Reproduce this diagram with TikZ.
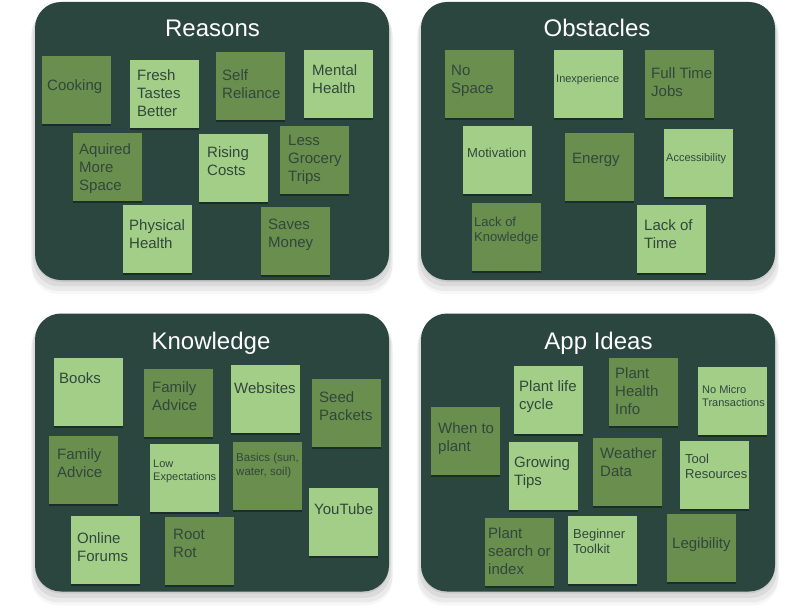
\documentclass[tikz,border=0pt]{standalone}
\usepackage{fontspec}
\setmainfont{Liberation Sans}
\usepackage{xcolor}
\definecolor{BoardGreen}{HTML}{2B463E}
\definecolor{NoteDark}{HTML}{6A8E4E}
\definecolor{NoteLight}{HTML}{A3CE87}
\definecolor{NoteInk}{HTML}{31473C}
\usepackage{tikz}
\usetikzlibrary{shadows}
% sticky text: left pad, top pad, lines
\newcommand{\memo}[3]{\parbox[t][68pt][t]{69pt}{\raggedright\leftskip=#1pt\vspace*{#2pt}#3}}

\begin{document}
\begin{tikzpicture}[x=1pt,y=-1pt,
  board/.style={fill=BoardGreen,rounded corners=26pt,minimum width=354pt,minimum height=278pt,inner sep=0pt,
    drop shadow={shadow xshift=0pt,shadow yshift=-2pt,opacity=0.08,fill=black},
    drop shadow={shadow xshift=0pt,shadow yshift=-5pt,shadow scale=1.01,opacity=0.06,fill=black},
    drop shadow={shadow xshift=0pt,shadow yshift=-8pt,shadow scale=1.02,opacity=0.05,fill=black},
    drop shadow={shadow xshift=0pt,shadow yshift=-11pt,shadow scale=1.02,opacity=0.03,fill=black}},
  heading/.style={text=white,font=\fontsize{24}{28}\selectfont,anchor=base},
  note/.style={anchor=north west,inner sep=0pt,minimum width=69pt,minimum height=68pt,text=NoteInk,
    drop shadow={shadow xshift=0pt,shadow yshift=-2pt,opacity=0.35,fill=black}},
  dark/.style={note,fill=NoteDark},
  light/.style={note,fill=NoteLight},
  f15/.style={font=\fontsize{15}{18}\selectfont},
  f13/.style={font=\fontsize{13}{15}\selectfont},
  f12/.style={font=\fontsize{11.5}{14}\selectfont},
  f11/.style={font=\fontsize{11}{13}\selectfont}
]
  \useasboundingbox[fill=white] (0,0) rectangle (808,610);

  % boards
  \node[board] (reasons) at (212,141) {};
  \node[board] (obstacles) at (598,141) {};
  \node[board] (knowledge) at (212,452.5) {};
  \node[board] (ideas) at (598,452.5) {};

  \node[heading] (reasonsT) at (212.5,37) {Reasons};
  \node[heading] (obstaclesT) at (597,37) {Obstacles};
  \node[heading] (knowledgeT) at (211,349) {Knowledge};
  \node[heading] (ideasT) at (598.5,349) {App Ideas};

  % Reasons
  \node[dark,f15] (cooking) at (42,56) {\memo{5}{23}{Cooking}};
  \node[light,f15] (fresh) at (130,60) {\memo{7}{9}{Fresh\\Tastes\\Better}};
  \node[dark,f15] (reliance) at (216,52) {\memo{6}{17}{Self\\Reliance}};
  \node[light,f15] (mental) at (304,50) {\memo{8}{14}{Mental\\Health}};
  \node[dark,f15] (space) at (73,133) {\memo{6}{10}{Aquired\\More\\Space}};
  \node[light,f15] (costs) at (199,134) {\memo{8}{12}{Rising\\Costs}};
  \node[dark,f15] (grocery) at (280,126) {\memo{8}{9}{Less\\Grocery\\Trips}};
  \node[light,f15] (physical) at (123,205) {\memo{6}{14}{Physical\\Health}};
  \node[dark,f15] (money) at (261,207) {\memo{7}{12}{Saves\\Money}};

  % Obstacles
  \node[dark,f15] (nospace) at (445,50) {\memo{6}{15}{No\\Space}};
  \node[light,f11] (inexp) at (554,50) {\memo{2}{24}{Inexperience}};
  \node[dark,f15] (jobs) at (645,50) {\memo{6}{17}{Full Time\\Jobs}};
  \node[light,f13] (motivation) at (463,126) {\memo{4}{22}{Motivation}};
  \node[dark,f15] (energy) at (565,133) {\memo{7}{20}{Energy}};
  \node[light,f11] (access) at (664,129) {\memo{2}{24}{Accessibility}};
  \node[dark,f13] (lackknow) at (472,203) {\memo{2}{14}{Lack of\\Knowledge}};
  \node[light,f15] (lacktime) at (637,205) {\memo{7}{14}{Lack of\\Time}};

  % Knowledge
  \node[light,f15] (books) at (54,358) {\memo{5}{14}{Books}};
  \node[dark,f15] (familyA) at (144,369) {\memo{8}{12}{Family\\Advice}};
  \node[light,f15] (websites) at (231,365) {\memo{3}{17}{Websites}};
  \node[dark,f15] (seeds) at (312,379) {\memo{7}{12}{Seed\\Packets}};
  \node[dark,f15] (familyB) at (49,436) {\memo{8}{12}{Family\\Advice}};
  \node[light,f11] (lowexp) at (150,444) {\memo{3}{16}{Low\\Expectations}};
  \node[dark,f12] (basics) at (233,442) {\memo{3}{11}{Basics (sun,\\water, soil)}};
  \node[light,f15] (youtube) at (309,488) {\memo{5}{15}{YouTube}};
  \node[light,f15] (forums) at (71,516) {\memo{6}{16}{Online\\Forums}};
  \node[dark,f15] (rootrot) at (165,517) {\memo{8}{12}{Root\\Rot}};

  % App Ideas
  \node[dark,f15] (when) at (431,407) {\memo{7}{15}{When to\\plant}};
  \node[light,f15] (lifecycle) at (514,366) {\memo{5}{14}{Plant life\\cycle}};
  \node[dark,f15] (plantinfo) at (609,358) {\memo{6}{9}{Plant\\Health\\Info}};
  \node[light,f11] (nomicro) at (698,367) {\memo{4}{18}{No Micro\\Transactions}};
  \node[light,f15] (tips) at (509,442) {\memo{5}{14}{Growing\\Tips}};
  \node[dark,f15] (weather) at (593,438) {\memo{7}{9}{Weather\\Data}};
  \node[light,f13] (tools) at (680,441) {\memo{5}{13}{Tool\\Resources}};
  \node[dark,f15] (search) at (485,518) {\memo{3}{9}{Plant\\search or\\index}};
  \node[light,f13] (toolkit) at (568,516) {\memo{5}{13}{Beginner\\Toolkit}};
  \node[dark,f15] (legible) at (667,514) {\memo{5}{23}{Legibility}};
\end{tikzpicture}
\end{document}
